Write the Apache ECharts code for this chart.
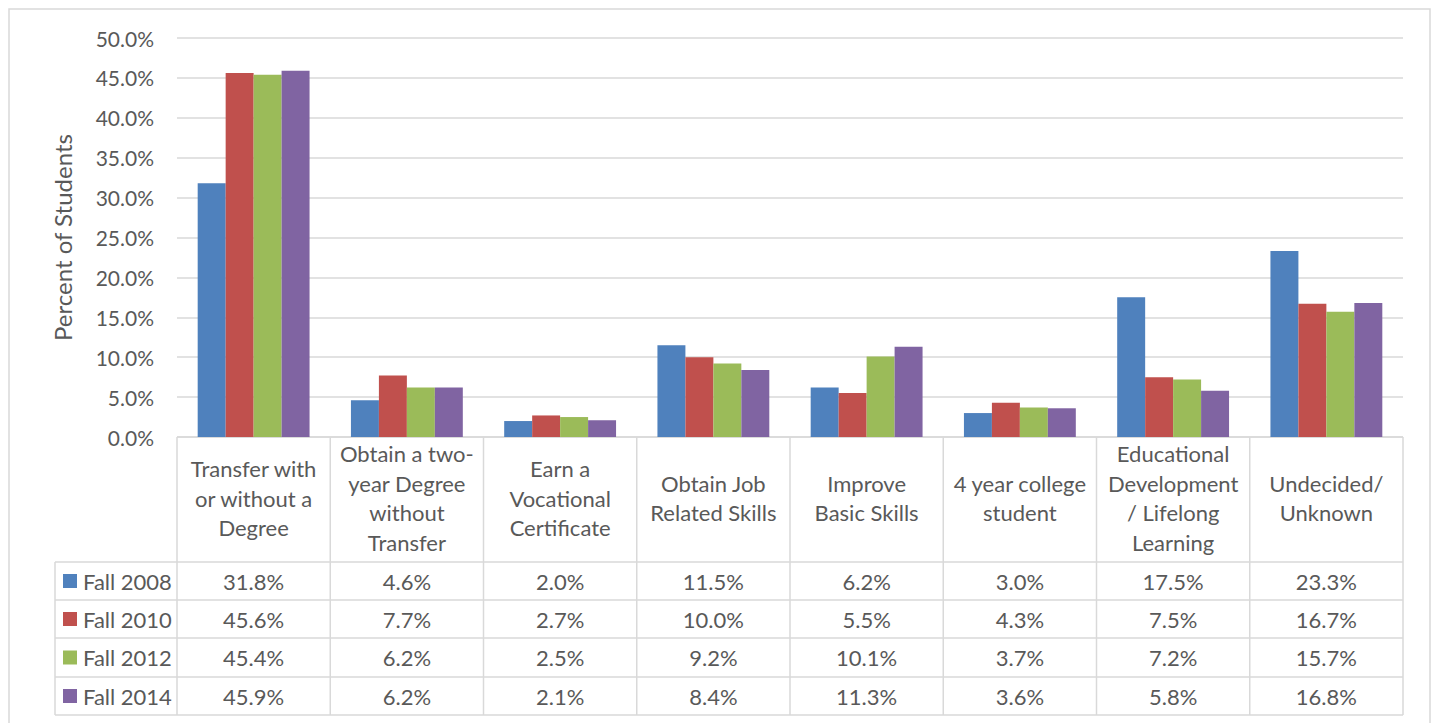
<!DOCTYPE html>
<html>
<head>
<meta charset="utf-8">
<script src="https://cdn.jsdelivr.net/npm/echarts@6/dist/echarts.min.js"></script>
<style>
  html, body { margin: 0; padding: 0; background: #fff; }
  #chart { width: 1435px; height: 723px; }
</style>
</head>
<body>
<div id="chart"></div>
<script>
// categories (header text of the data table, wrapped as in the picture)
const categories = [
  'Transfer with\nor without a\nDegree',
  'Obtain a two-\nyear Degree\nwithout\nTransfer',
  'Earn a\nVocational\nCertificate',
  'Obtain Job\nRelated Skills',
  'Improve\nBasic Skills',
  '4 year college\nstudent',
  'Educational\nDevelopment\n/ Lifelong\nLearning',
  'Undecided/\nUnknown'
];
const seriesNames = ['Fall 2008', 'Fall 2010', 'Fall 2012', 'Fall 2014'];
const fall2008 = [31.8, 4.6, 2.0, 11.5, 6.2, 3.0, 17.5, 23.3];
const fall2010 = [45.6, 7.7, 2.7, 10.0, 5.5, 4.3, 7.5, 16.7];
const fall2012 = [45.4, 6.2, 2.5, 9.2, 10.1, 3.7, 7.2, 15.7];
const fall2014 = [45.9, 6.2, 2.1, 8.4, 11.3, 3.6, 5.8, 16.8];
const seriesValues = [fall2008, fall2010, fall2012, fall2014];
const colors = ['#4F81BD', '#C0504D', '#9BBB59', '#8064A2'];

// layout
const FONT = 'Lato, "Open Sans", sans-serif';
const TEXT = '#595959';
const LINE = '#d9d9d9';
const gridLeft = 177, gridTop = 38, gridRight = 1403, gridBottom = 437;
const tableLeft = 55;
const rowY = [437, 562, 600, 638, 677, 715];
const colW = (gridRight - gridLeft) / categories.length;
const TABLE_FS = 22;

const chart = echarts.init(document.getElementById('chart'), null, { renderer: 'svg' });

// 表格（数据表）
const graphics = [];
// outer chart border
graphics.push({
  type: 'rect', shape: { x: 9, y: 9, width: 1421, height: 730 },
  style: { fill: 'none', stroke: LINE, lineWidth: 1.5 }, silent: true
});
// horizontal lines
rowY.forEach((y, i) => {
  graphics.push({
    type: 'line',
    shape: { x1: i === 0 ? gridLeft : tableLeft, y1: y, x2: gridRight, y2: y },
    style: { stroke: LINE, lineWidth: 1.5 }, silent: true
  });
});
// vertical lines
graphics.push({
  type: 'line', shape: { x1: tableLeft, y1: rowY[1], x2: tableLeft, y2: rowY[5] },
  style: { stroke: LINE, lineWidth: 1.5 }, silent: true
});
for (let c = 0; c <= categories.length; c++) {
  const x = gridLeft + c * colW;
  graphics.push({
    type: 'line', shape: { x1: x, y1: rowY[0], x2: x, y2: rowY[5] },
    style: { stroke: LINE, lineWidth: 1.5 }, silent: true
  });
}
// header text
categories.forEach((cat, c) => {
  graphics.push({
    type: 'text',
    style: {
      text: cat, x: gridLeft + (c + 0.5) * colW, y: (rowY[0] + rowY[1]) / 2 - 1.5,
      textAlign: 'center', textVerticalAlign: 'middle',
      fontFamily: FONT, fontSize: TABLE_FS, lineHeight: 29.5, fill: TEXT
    }, silent: true
  });
});
// legend keys + values
seriesNames.forEach((name, r) => {
  const cy = (rowY[r + 1] + rowY[r + 2]) / 2;
  graphics.push({
    type: 'rect', shape: { x: 63, y: cy - 7, width: 14, height: 14 },
    style: { fill: colors[r] }, silent: true
  });
  graphics.push({
    type: 'text',
    style: {
      text: name, x: 83, y: cy, textAlign: 'left', textVerticalAlign: 'middle',
      fontFamily: FONT, fontSize: TABLE_FS, fill: TEXT
    }, silent: true
  });
  seriesValues[r].forEach((v, c) => {
    graphics.push({
      type: 'text',
      style: {
        text: v.toFixed(1) + '%', x: gridLeft + (c + 0.5) * colW, y: cy,
        textAlign: 'center', textVerticalAlign: 'middle',
        fontFamily: FONT, fontSize: TABLE_FS, fill: TEXT
      }, silent: true
    });
  });
});

const option = {
  animation: false,
  color: colors,
  grid: {
    left: gridLeft, top: gridTop,
    width: gridRight - gridLeft, height: gridBottom - gridTop
  },
  xAxis: {
    type: 'category',
    data: categories,
    axisLine: { show: false },
    axisTick: { show: false },
    axisLabel: { show: false }
  },
  yAxis: {
    type: 'value',
    min: 0, max: 50, interval: 5,
    name: 'Percent of Students',
    nameLocation: 'middle',
    nameGap: 103,
    nameTextStyle: { fontFamily: FONT, fontSize: 24, color: TEXT },
    axisLine: { show: false },
    axisTick: { show: false },
    axisLabel: {
      margin: 23,
      fontFamily: FONT, fontSize: 21, color: TEXT,
      formatter: v => v.toFixed(1) + '%'
    },
    splitLine: { lineStyle: { color: LINE, width: 1.5 } }
  },
  series: seriesNames.map((name, i) => ({
    name: name,
    type: 'bar',
    data: seriesValues[i],
    barGap: '0%',
    barCategoryGap: '27%'
  })),
  graphic: graphics
};

chart.setOption(option);
</script>
</body>
</html>
